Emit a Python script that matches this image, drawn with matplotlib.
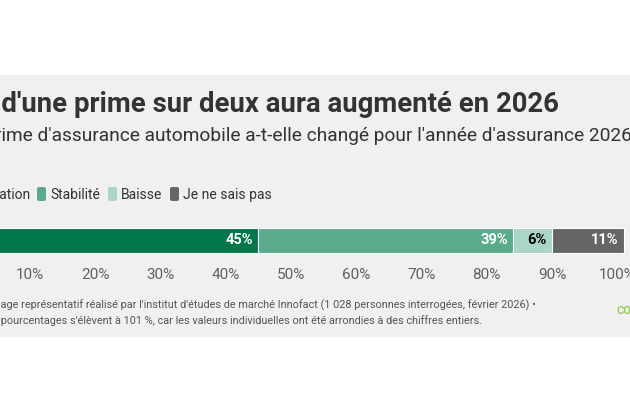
import matplotlib
matplotlib.use("Agg")
import matplotlib.pyplot as plt
from matplotlib.patches import FancyBboxPatch, Rectangle

plt.rcParams['font.family'] = ['Roboto', 'DejaVu Sans']

# data
categories = ["Augmentation", "Stabilité", "Baisse", "Je ne sais pas"]
values = [45, 39, 6, 11]
colors = ["#00774b", "#5aaa8b", "#a9d6c6", "#666666"]
label_colors = ["white", "white", "black", "white"]
ticks = [10, 20, 30, 40, 50, 60, 70, 80, 90, 100]
tick_labels = [f"{t}%" for t in ticks]

title = "Plus d'une prime sur deux aura augmenté en 2026"
subtitle = "Comment votre prime d'assurance automobile a-t-elle changé pour l'année d'assurance 2026 ?"
note1 = "Source : Sondage représentatif réalisé par l'institut d'études de marché Innofact (1 028 personnes interrogées, février 2026) •"
note2 = "Remarque : au total, les pourcentages s'élèvent à 101 %, car les valeurs individuelles ont été arrondies à des chiffres entiers."

W, H = 630, 412
fig = plt.figure(figsize=(W / 100, H / 100), dpi=100)
fig.patch.set_facecolor("white")
renderer = fig.canvas.get_renderer()

# gray panel
fig.patches.append(Rectangle((0, 1 - 337 / H), 1, (337 - 75) / H,
                             transform=fig.transFigure, facecolor="#f0f0f0",
                             edgecolor="none", zorder=-5))


def fy(y):
    return 1 - y / H


def clipped_text(x_vis, y, full, prefix, **kw):
    # place text so that the part after prefix starts at pixel x_vis
    t = fig.text(0, 0, prefix, **kw)
    w = t.get_window_extent(renderer).width
    t.remove()
    return fig.text((x_vis - w) / W, fy(y), full, va="baseline", **kw)


clipped_text(1, 112, title, "Plus ", fontsize=19.8, fontweight="bold", color="#333333")
clipped_text(1, 141, subtitle, "Comment votre pr", fontsize=13.8, color="#333333")

# legend
leg_y = 199
clipped_text(0, leg_y, categories[0], "Augment", fontsize=10, color="#333333")
fig.patches.append(FancyBboxPatch(((-30) / W, fy(201)), 9 / W, 14 / H,
                                  boxstyle="round,pad=0,rounding_size=0.004",
                                  transform=fig.transFigure, facecolor=colors[0],
                                  edgecolor="none"))
leg_sq = [37, 108, 170]
leg_tx = [50, 121, 183]
for i in range(1, 4):
    fig.patches.append(FancyBboxPatch((leg_sq[i - 1] / W, fy(201)), 9 / W, 14 / H,
                                      boxstyle="round,pad=0,rounding_size=0.004",
                                      transform=fig.transFigure, facecolor=colors[i],
                                      edgecolor="none"))
    fig.text(leg_tx[i - 1] / W, fy(leg_y), categories[i], va="baseline",
             fontsize=10, color="#333333")

# bar axis: 0% at x=-35.25 px, 100% at x=617.25 px
x0, x100 = -35.25, 617.25
bar_top, bar_bot = 228, 253
ax = fig.add_axes([x0 / W, fy(bar_bot), (x100 - x0) / W, (bar_bot - bar_top) / H])
ax.set_facecolor("none")
ax.set_xlim(0, 100)
ax.set_ylim(-0.5, 0.5)
left = 0
for v, c, lc in zip(values, colors, label_colors):
    ax.barh(0, v, left=left, height=1, color=c, edgecolor="white",
            linewidth=0.8, clip_on=False)
    ax.text(left + v - 0.8, 0, f"{v}%", ha="right", va="center",
            fontsize=10.5, fontweight="bold", color=lc, clip_on=False)
    left += v
for s in ax.spines.values():
    s.set_visible(False)
ax.set_yticks([])
ax.set_xticks(ticks)
ax.set_xticklabels(tick_labels)
ax.tick_params(axis="x", length=0, pad=11, labelsize=11, labelcolor="#606060")

# footnotes
clipped_text(1, 308, note1, "Source : Sond", fontsize=7.8, color="#555555")
clipped_text(1, 324, note2, "Remarque : au total, les ", fontsize=7.8, color="#555555")
fig.text(616 / W, fy(314), "comparis", va="baseline", fontsize=10, color="#8cc63f")

fig.savefig("out.png", dpi=100)
